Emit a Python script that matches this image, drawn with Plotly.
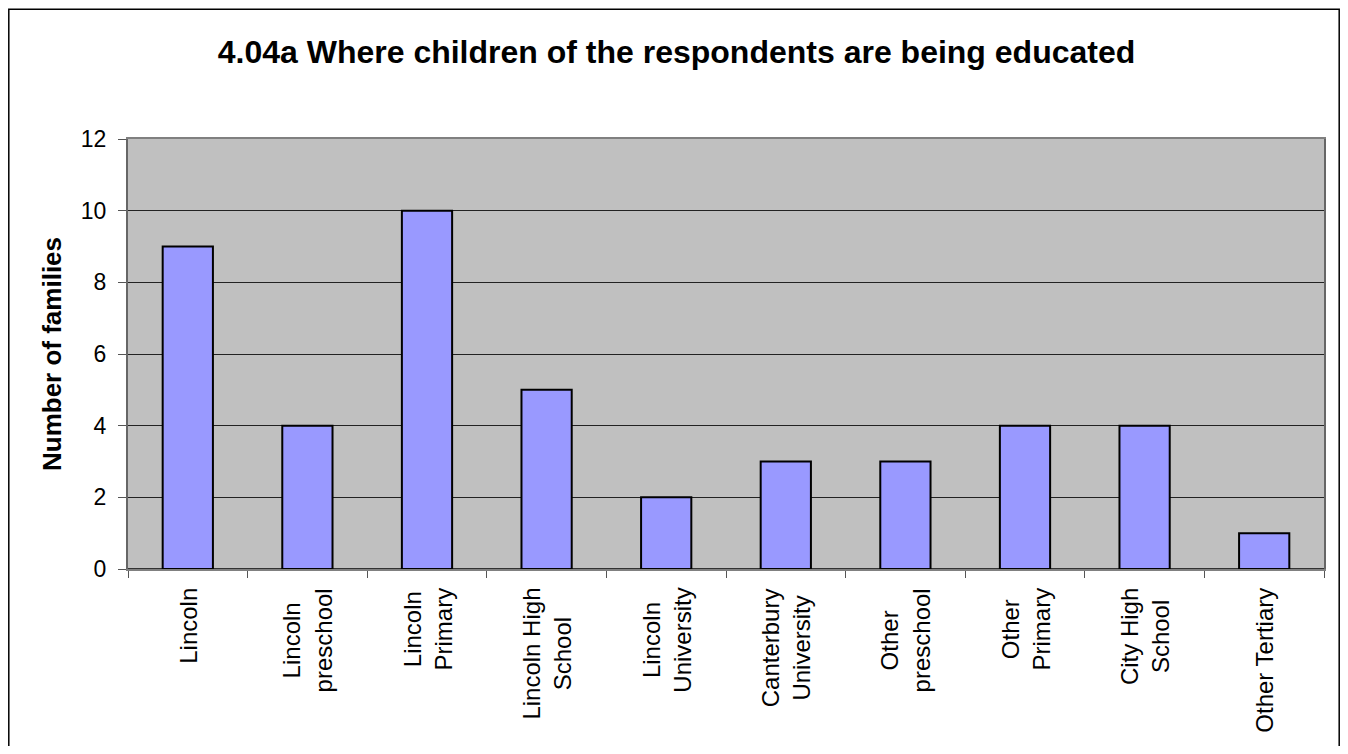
import plotly.graph_objects as go

categories = ["Lincoln", "Lincoln\npreschool", "Lincoln\nPrimary", "Lincoln High\nSchool",
              "Lincoln\nUniversity", "Canterbury\nUniversity", "Other\npreschool",
              "Other\nPrimary", "City High\nSchool", "Other Tertiary"]
families = [9, 4, 10, 5, 2, 3, 3, 4, 4, 1]
y_ticks = [0, 2, 4, 6, 8, 10, 12]

FONT = "Liberation Sans, Arial, sans-serif"

# page has an 8px body margin, so the figure is sized to fill the 1348x754 window
W, H = 1332, 738
L, R, T, B = 120, 16, 131, 177
pw, ph = W - L - R, H - T - B

def px_to_paper(x, y):
    return (x - L) / pw, (H - B - y) / ph

fig = go.Figure()
fig.add_trace(go.Bar(
    x=categories, y=families,
    marker=dict(color="#9999FF", line=dict(color="#000000", width=2)),
    width=0.42,
))

# category labels: rotated, lines centred on each other (as in the original)
for c in categories:
    fig.add_annotation(
        x=c, xref="x", y=0, yref="paper", yanchor="top", xanchor="center",
        yshift=-17, text=c.replace("\n", "<br>"), textangle=-90, align="center",
        showarrow=False, font=dict(family=FONT, size=24, color="#000000"),
    )

fx0, fy0 = px_to_paper(0.8, 1.2)
fx1, fy1 = px_to_paper(1331.2, 760)
fig.add_shape(type="rect", xref="paper", yref="paper", x0=fx0, y0=fy1, x1=fx1, y1=fy0,
              line=dict(color="#000000", width=1.5), fillcolor="rgba(0,0,0,0)", layer="below")

fig.update_layout(
    width=W, height=H,
    margin=dict(l=L, r=R, t=T, b=B, pad=0),
    paper_bgcolor="#FFFFFF",
    plot_bgcolor="#C0C0C0",
    showlegend=False,
    title=dict(text="<b>4.04a Where children of the respondents are being educated</b>",
               x=668.5 / W, xanchor="center", y=1 - 44 / H, yanchor="middle",
               font=dict(family=FONT, size=32, color="#000000")),
    font=dict(family=FONT, color="#000000"),
)

fig.update_xaxes(
    type="category", categoryorder="array", categoryarray=categories,
    showticklabels=False,
    ticks="outside", ticklen=7, tickwidth=1, tickcolor="#555555",
    tickson="boundaries",
    showline=True, linecolor="#808080", linewidth=2, mirror=True,
    showgrid=False,
)
fig.update_yaxes(
    range=[0, 12], tickmode="array", tickvals=y_ticks,
    tickfont=dict(family=FONT, size=23, color="#000000"),
    ticks="outside", ticklen=8, tickwidth=1, tickcolor="#555555",
    ticklabelstandoff=7,
    showline=True, linecolor="#666666", linewidth=2, mirror=True,
    showgrid=True, gridcolor="#222222", gridwidth=1,
    zeroline=True, zerolinecolor="#333333", zerolinewidth=2,
    title=dict(text="<b>Number of families</b>", font=dict(family=FONT, size=26, color="#000000"),
               standoff=12),
)

fig.write_html("out.html")
